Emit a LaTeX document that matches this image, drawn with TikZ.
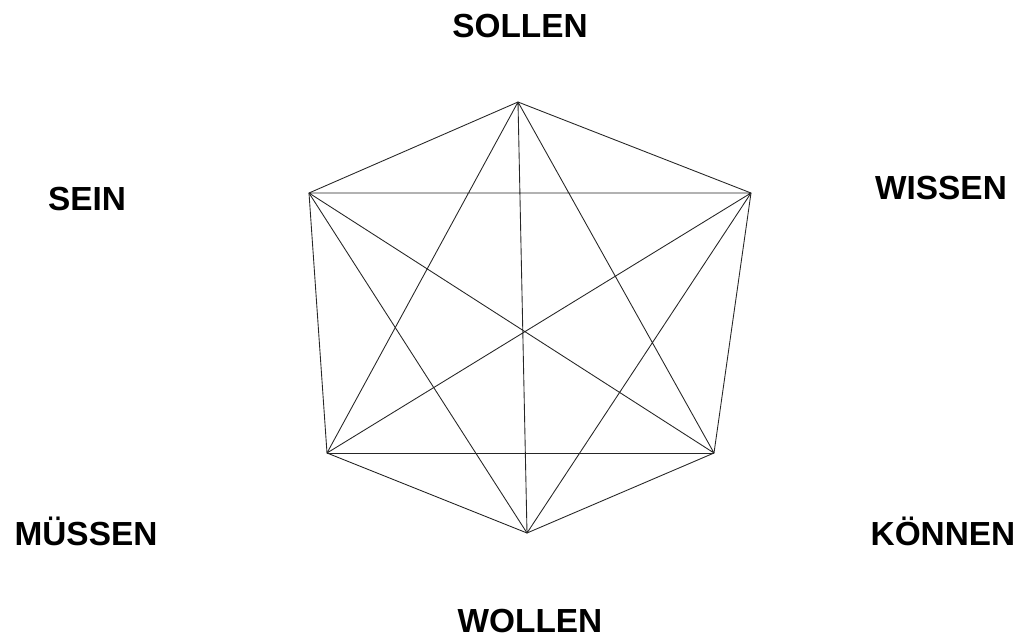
\documentclass[tikz,border=0pt]{standalone}
\usepackage{fontspec}
\setmainfont{Liberation Sans}
\usepackage{tikz}
\usetikzlibrary{positioning}

\begin{document}
\begin{tikzpicture}[x=0.02cm,y=-0.02cm,
  lbl/.style={anchor=base,inner sep=0pt,font=\fontsize{19}{23}\selectfont\bfseries},
  e/.style={draw=black!85,line width=0.5pt,line join=round}]
  \useasboundingbox (0,0) rectangle (1025,637);
  \coordinate (s) at (518,102); \coordinate (w) at (751,193); \coordinate (k) at (714,453);
  \coordinate (o) at (527,533); \coordinate (m) at (327,453); \coordinate (e1) at (309,193);
  \node[lbl] (sollen) at (520,37) {SOLLEN}; \node[lbl] (wissen) at (941,199) {WISSEN};
  \node[lbl] (koennen) at (943,545) {KÖNNEN}; \node[lbl] (wollen) at (530,632) {WOLLEN};
  \node[lbl] (muessen) at (86,545) {MÜSSEN}; \node[lbl] (sein) at (87,210) {SEIN};
  \draw[e] (s)--(w)--(k)--(o)--(m)--(e1)--cycle;
  \draw[e] (s)--(k)--(e1)--(w)--(m)--(s)--(o)--(w); \draw[e] (k)--(m); \draw[e] (o)--(e1);
\end{tikzpicture}
\end{document}
